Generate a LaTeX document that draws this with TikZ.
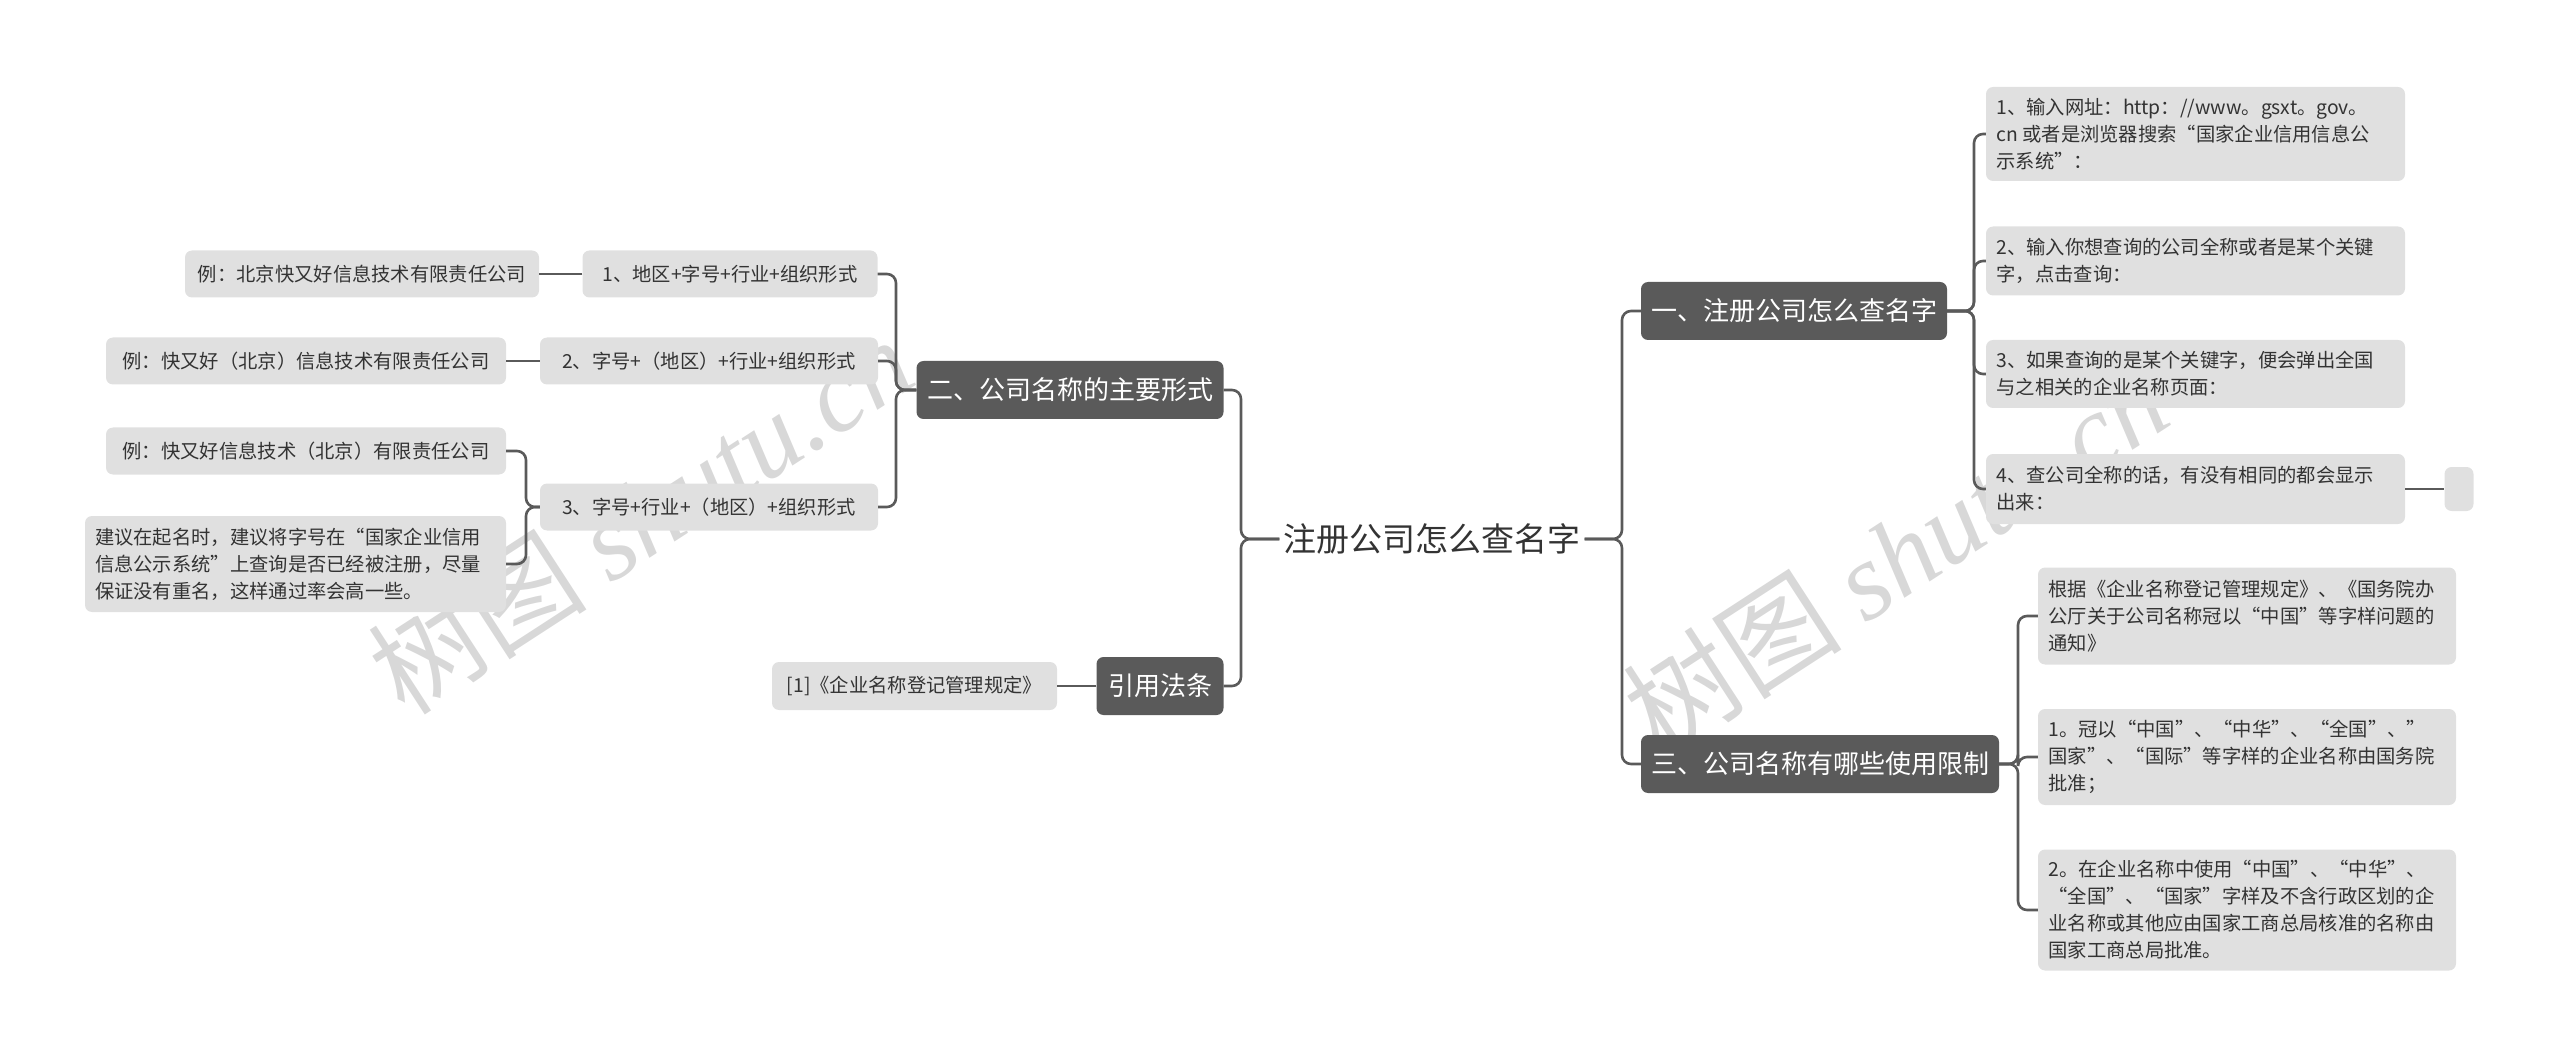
\documentclass[tikz,border=0pt]{standalone}
\usepackage{fontspec}
\setmainfont{Noto Sans CJK SC}
\newfontfamily\wmlat{Liberation Serif}
\definecolor{dk}{HTML}{5A5A5A}
\definecolor{lt}{HTML}{E0E0E0}
\definecolor{tx}{HTML}{333333}
\definecolor{wm}{HTML}{D8D8D8}
\begin{document}
\begin{tikzpicture}[x=1pt,y=-1pt,
  ltbox/.style={fill=lt,rounded corners=7,text=tx,align=left,inner sep=0pt,font=\fontsize{19.3}{27}\selectfont},
  dkbox/.style={fill=dk,rounded corners=7,text=white,align=center,inner sep=0pt,font=\fontsize{26}{30}\selectfont},
  wmark/.style={text=wm,rotate=33,font=\fontsize{110}{110}\selectfont},
  conn/.style={draw=dk,line width=2.6pt,rounded corners=9}]
\useasboundingbox (0,0) rectangle (2560,1056);
% watermarks
\node[wmark] (wm1) at (640,515) {树图 {\wmlat\itshape shutu.cn}};
\node[wmark] (wm2) at (1895,555) {树图 {\wmlat\itshape shutu.cn}};
% root
\node[text=tx,font=\fontsize{33}{36}\selectfont,inner sep=4pt] (root) at (1432,539) {注册公司怎么查名字};
% main branches
\node[dkbox,minimum width=306,minimum height=58] (b1) at (1794,311) {一、注册公司怎么查名字};
\node[dkbox,minimum width=358,minimum height=58] (b3) at (1820,764) {三、公司名称有哪些使用限制};
\node[dkbox,minimum width=307,minimum height=58] (b2) at (1070,390) {二、公司名称的主要形式};
\node[dkbox,minimum width=127,minimum height=58] (b4) at (1160,686) {引用法条};
% right children
\node[ltbox,minimum width=419,minimum height=94] (c1) at (2195.5,134) {\begin{minipage}{398pt}1、输入网址：http：//www。gsxt。gov。\\cn 或者是浏览器搜索“国家企业信用信息公\\示系统”：\end{minipage}};
\node[ltbox,minimum width=419,minimum height=69] (c2) at (2195.5,261) {\begin{minipage}{398pt}2、输入你想查询的公司全称或者是某个关键\\字，点击查询：\end{minipage}};
\node[ltbox,minimum width=419,minimum height=68] (c3) at (2195.5,374) {\begin{minipage}{398pt}3、如果查询的是某个关键字，便会弹出全国\\与之相关的企业名称页面：\end{minipage}};
\node[ltbox,minimum width=419,minimum height=70] (c4) at (2195.5,489) {\begin{minipage}{398pt}4、查公司全称的话，有没有相同的都会显示\\出来：\end{minipage}};
\node[ltbox,minimum width=29,minimum height=44] (c5) at (2459,489) {};
\node[ltbox,minimum width=418,minimum height=97] (d1) at (2247,616) {\begin{minipage}{397pt}根据《企业名称登记管理规定》、《国务院办\\公厅关于公司名称冠以“中国”等字样问题的\\通知》\end{minipage}};
\node[ltbox,minimum width=418,minimum height=96] (d2) at (2247,757) {\begin{minipage}{397pt}1。冠以“中国”、“中华”、“全国”、”\\国家”、“国际”等字样的企业名称由国务院\\批准；\end{minipage}};
\node[ltbox,minimum width=418,minimum height=121] (d3) at (2247,910) {\begin{minipage}{397pt}2。在企业名称中使用“中国”、“中华”、\\“全国”、“国家”字样及不含行政区划的企\\业名称或其他应由国家工商总局核准的名称由\\国家工商总局批准。\end{minipage}};
% left children
\node[ltbox,minimum width=295,minimum height=47] (l1) at (730,274) {1、地区+字号+行业+组织形式};
\node[ltbox,minimum width=338,minimum height=47] (l2) at (709,361) {2、字号+（地区）+行业+组织形式};
\node[ltbox,minimum width=338,minimum height=47] (l3) at (709,507) {3、字号+行业+（地区）+组织形式};
\node[ltbox,minimum width=354,minimum height=47] (e1) at (362,274) {例：北京快又好信息技术有限责任公司};
\node[ltbox,minimum width=400,minimum height=47] (e2) at (306,361) {例：快又好（北京）信息技术有限责任公司};
\node[ltbox,minimum width=400,minimum height=47] (e3) at (306,451) {例：快又好信息技术（北京）有限责任公司};
\node[ltbox,minimum width=421,minimum height=96] (e4) at (295.5,564) {\begin{minipage}{401pt}建议在起名时，建议将字号在“国家企业信用\\信息公示系统”上查询是否已经被注册，尽量\\保证没有重名，这样通过率会高一些。\end{minipage}};
\node[ltbox,minimum width=285,minimum height=48] (ref) at (914.5,686) {[1]《企业名称登记管理规定》};
% spines
\coordinate (sL) at (1241,539);
\coordinate (sR) at (1622,539);
\coordinate (s1) at (1974,311);
\coordinate (s3) at (2018,764);
\coordinate (s2) at (896,390);
\coordinate (s33) at (526,507);
% connectors
\draw[conn] (root.west) -- (sL) |- (b2.east);
\draw[conn] (root.west) -- (sL) |- (b4.east);
\draw[conn] (root.east) -- (sR) |- (b1.west);
\draw[conn] (root.east) -- (sR) |- (b3.west);
\foreach \c in {c1,c2,c3,c4} \draw[conn] (b1.east) -- (s1) |- (\c.west);
\foreach \c in {d1,d2,d3} \draw[conn] (b3.east) -- (s3) |- (\c.west);
\foreach \c in {l1,l2,l3} \draw[conn] (b2.west) -- (s2) |- (\c.east);
\foreach \c in {e3,e4} \draw[conn] (l3.west) -- (s33) |- (\c.east);
\draw[conn] (l1.west) -- (e1.east);
\draw[conn] (l2.west) -- (e2.east);
\draw[conn] (b4.west) -- (ref.east);
\draw[conn] (c4.east) -- (c5.west);
\end{tikzpicture}
\end{document}
